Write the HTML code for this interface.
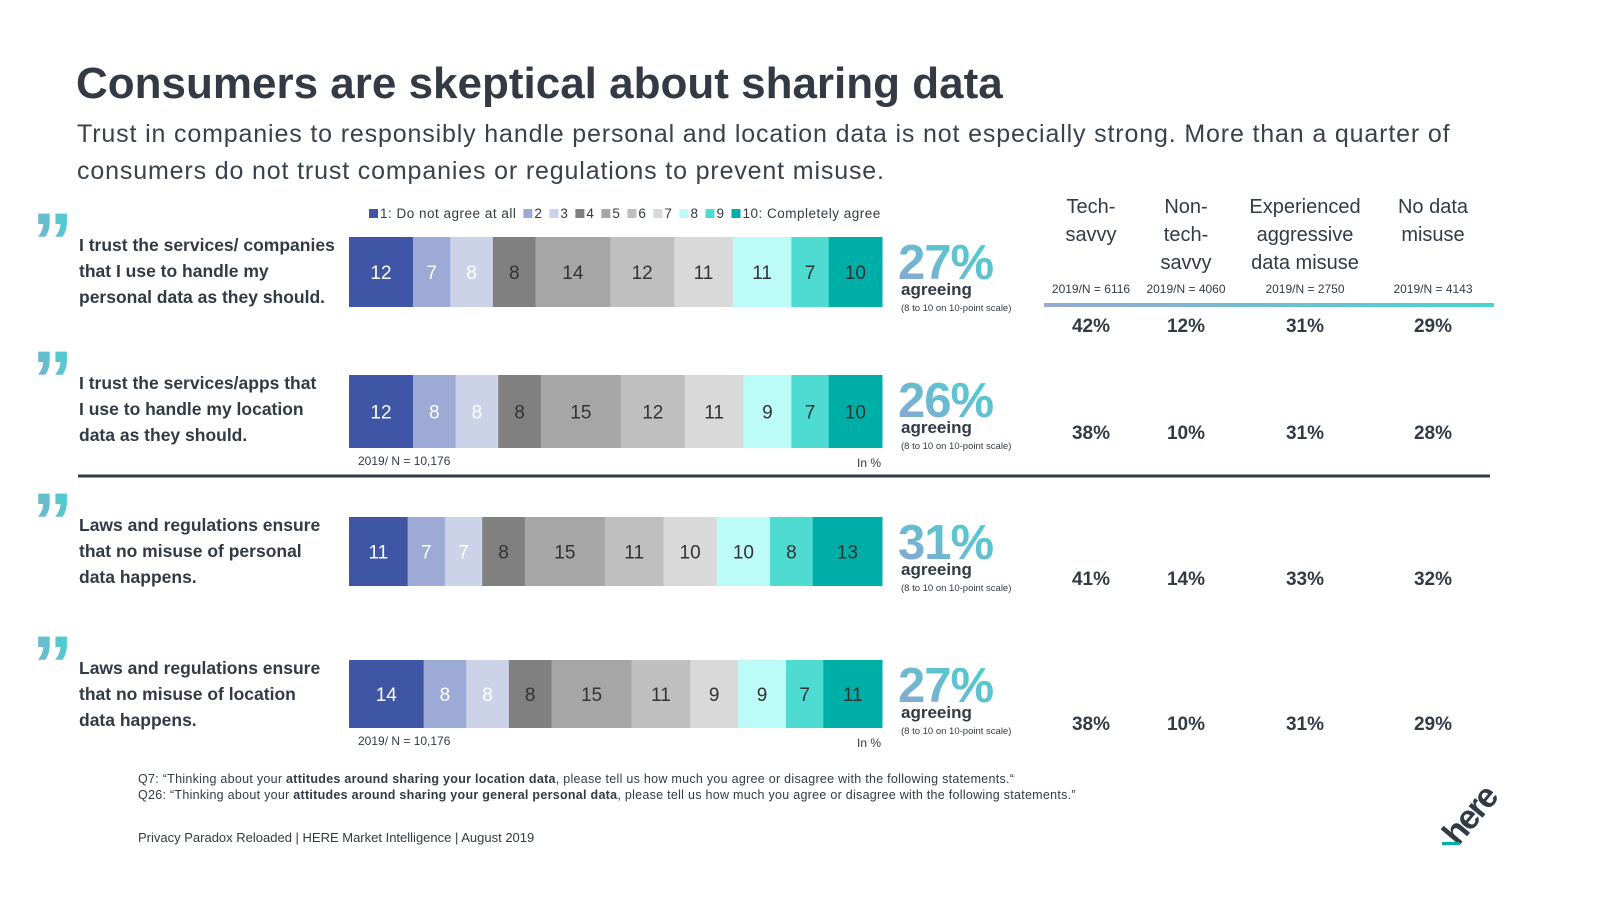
<!DOCTYPE html>
<html><head><meta charset="utf-8">
<style>
html,body{margin:0;padding:0;background:#fff;}
body{width:1600px;height:900px;overflow:hidden;font-family:"Liberation Sans",sans-serif;color:#333a44;}
svg text{font-family:"Liberation Sans",sans-serif;}
</style></head>
<body>
<svg id="chart" width="1600" height="900" viewBox="0 0 1600 900" xmlns="http://www.w3.org/2000/svg">
<defs>
<linearGradient id="tealgrad" x1="0" y1="1" x2="1" y2="0">
<stop offset="0" stop-color="#8fa3d4"/><stop offset="1" stop-color="#3fd6cc"/>
</linearGradient>
<linearGradient id="linegrad" x1="0" y1="0" x2="1" y2="0">
<stop offset="0" stop-color="#9aa8d4"/><stop offset="1" stop-color="#45d6cc"/>
</linearGradient>
</defs>
<text x="76" y="98" font-size="44" font-weight="bold" fill="#333a44">Consumers are skeptical about sharing data</text>
<text x="77" y="142" font-size="25" fill="#3a414b" letter-spacing="0.85">Trust in companies to responsibly handle personal and location data is not especially strong. More than a quarter of</text>
<text x="77" y="179" font-size="25" fill="#3a414b" letter-spacing="0.85">consumers do not trust companies or regulations to prevent misuse.</text>

<g id="legend"></g>
<g id="quotes"></g>
<g id="bars"></g>
<g id="segtable"></g>

<line x1="78" y1="476" x2="1490" y2="476" stroke="#333a44" stroke-width="3"/>
<rect x="1044" y="303" width="450" height="4" fill="url(#linegrad)"/>

<text x="138" y="783" font-size="12.5" fill="#333a44" letter-spacing="0.28">Q7: “Thinking about your <tspan font-weight="bold">attitudes around sharing your location data</tspan>, please tell us how much you agree or disagree with the following statements.“</text>
<text x="138" y="799" font-size="12.5" fill="#333a44" letter-spacing="0.28">Q26: “Thinking about your <tspan font-weight="bold">attitudes around sharing your general personal data</tspan>, please tell us how much you agree or disagree with the following statements.”</text>
<text x="138" y="842" font-size="13" fill="#333a44">Privacy Paradox Reloaded | HERE Market Intelligence | August 2019</text>
<g>
<text x="0" y="0" font-size="34" font-weight="bold" fill="#333a44" transform="translate(1458,847) rotate(-50)" letter-spacing="-2">here</text>
<rect x="1442" y="842" width="18" height="3" fill="#00aea8"/>
</g>
</svg>
<script>
const categories = ["1: Do not agree at all","2","3","4","5","6","7","8","9","10: Completely agree"];
const statements = [
 ["I trust the services/ companies","that I use to handle my","personal data as they should."],
 ["I trust the services/apps that","I use to handle my location","data as they should."],
 ["Laws and regulations ensure","that no misuse of personal","data happens."],
 ["Laws and regulations ensure","that no misuse of location","data happens."]
];
const row1 = [12,7,8,8,14,12,11,11,7,10];
const row2 = [12,8,8,8,15,12,11,9,7,10];
const row3 = [11,7,7,8,15,11,10,10,8,13];
const row4 = [14,8,8,8,15,11,9,9,7,11];
const agreeing = ["27%","26%","31%","27%"];
const segments = ["Tech-|savvy","Non-|tech-|savvy","Experienced|aggressive|data misuse","No data|misuse"];
const segmentN = ["2019/N = 6116","2019/N = 4060","2019/N = 2750","2019/N = 4143"];
const segRow1 = [42,12,31,29];
const segRow2 = [38,10,31,28];
const segRow3 = [41,14,33,32];
const segRow4 = [38,10,31,29];

const rows=[row1,row2,row3,row4];
const segRows=[segRow1,segRow2,segRow3,segRow4];
const colors=["#3f56a6","#9daad6","#ccd3e8","#808080","#a6a6a6","#bfbfbf","#d9d9d9","#bdfbf9","#4ddbd2","#00aea8"];
const txtColors=["#fff","#fff","#fff","#333","#333","#333","#333","#333","#333","#333"];
const NS="http://www.w3.org/2000/svg";
function mk(tag,attrs,parent){const e=document.createElementNS(NS,tag);for(const k in attrs)e.setAttribute(k,attrs[k]);parent.appendChild(e);return e;}
const barX0=349, barW=533;
const rowTop=[237,375,517,660], rowH=[70,73,69,68];
function xScale(v){return v/100*barW;}

// legend
const lg=document.getElementById('legend');
let lx=369;
categories.forEach((c,i)=>{
  const r=mk('rect',{x:lx,y:209,width:9,height:9,fill:colors[i]},lg);
  
  
  const t=mk('text',{x:lx+11,y:218,'font-size':13.5,fill:'#333a44','letter-spacing':0.5},lg);
  t.textContent=c;
  
  
  lx+=11+t.getComputedTextLength()+7;
});

const bg=document.getElementById('bars');
const qg=document.getElementById('quotes');
rows.forEach((vals,ri)=>{
  const y=rowTop[ri],h=rowH[ri];
  const q=mk('text',{x:32,y:y+33,'font-size':82,'font-weight':'bold',fill:'url(#tealgrad)'},qg);
  q.textContent='”';
  
  
  statements[ri].forEach((ln,li)=>{
    const t=mk('text',{x:79,y:y+14+li*26,'font-size':17.5,'font-weight':'bold',fill:'#333a44'},qg);
    t.textContent=ln;
    
    
  });
  let acc=0;
  vals.forEach((v,i)=>{
    const x=barX0+xScale(acc), w=xScale(v);
    const r=mk('rect',{x:x,y:y,width:w+0.5,height:h,fill:colors[i]},bg);
    
    
    const t=mk('text',{x:x+w/2,y:y+h/2+7,'font-size':19,'text-anchor':'middle',fill:txtColors[i]},bg);
    t.textContent=v;
    
    
    acc+=v;
  });
  const p=mk('text',{x:898,y:y+42,'font-size':49,'font-weight':'bold',fill:'url(#tealgrad)','letter-spacing':'-1'},bg);
  p.textContent=agreeing[ri];
  
  
  const a=mk('text',{x:901,y:y+58,'font-size':17,'font-weight':'bold',fill:'#333a44'},bg);
  a.textContent='agreeing';
  
  
  const s=mk('text',{x:901,y:y+74,'font-size':9.5,fill:'#333a44'},bg);
  s.textContent='(8 to 10 on 10-point scale)';
  
  
  if(ri===1||ri===3){
    const n=mk('text',{x:358,y:y+h+17,'font-size':12,fill:'#333a44'},bg);
    n.textContent='2019/  N = 10,176';
    
    
    const u=mk('text',{x:881,y:y+h+19,'font-size':12,'text-anchor':'end',fill:'#333a44'},bg);
    u.textContent='In %';
    
    
  }
});

const sg=document.getElementById('segtable');
const colX=[1091,1186,1305,1433];
const segY=[325,432,578,723];
segments.forEach((s,ci)=>{
  s.split('|').forEach((ln,li)=>{
    const t=mk('text',{x:colX[ci],y:213+li*28,'font-size':20,'text-anchor':'middle',fill:'#333a44'},sg);
    t.textContent=ln;
    
    
  });
  const n=mk('text',{x:colX[ci],y:293,'font-size':12,'text-anchor':'middle',fill:'#333a44'},sg);
  n.textContent=segmentN[ci];
  
  
});
segRows.forEach((vals,ri)=>{
  vals.forEach((v,ci)=>{
    const t=mk('text',{x:colX[ci],y:segY[ri]+7,'font-size':19,'font-weight':'bold','text-anchor':'middle',fill:'#333a44'},sg);
    t.textContent=v+'%';
    
    
  });
});
</script>
</body></html>
